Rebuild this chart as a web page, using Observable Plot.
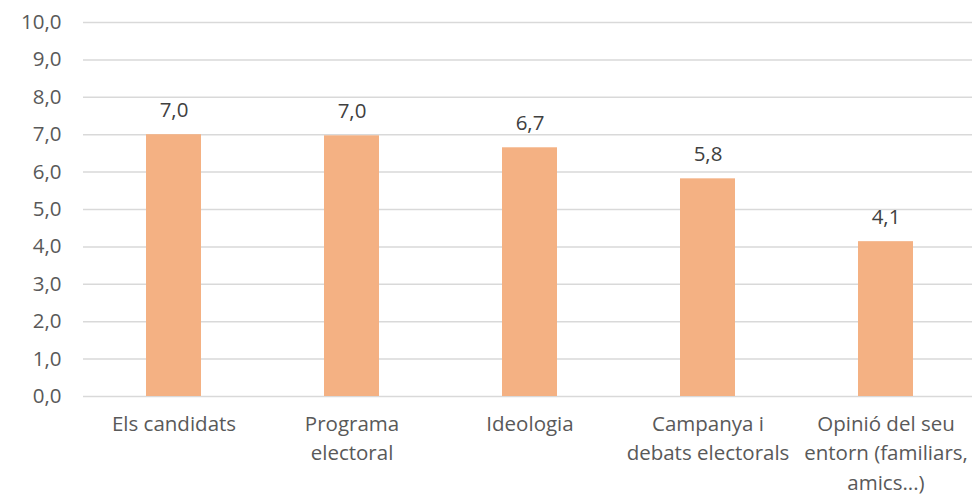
<!DOCTYPE html>
<html>
<head>
<meta charset="utf-8">
<script src="https://cdn.jsdelivr.net/npm/d3@7"></script>
<script src="https://cdn.jsdelivr.net/npm/@observablehq/plot@0.6"></script>
<style>
  html, body { margin: 0; padding: 0; background: #fff; }
</style>
</head>
<body>
<div id="chart"></div>
<script>
const categories = [
  "Els candidats",
  "Programa\nelectoral",
  "Ideologia",
  "Campanya i\ndebats electorals",
  "Opinió del seu\nentorn (familiars,\namics...)"
];
const values = [7.0, 6.97, 6.65, 5.82, 4.14];
const yTicks = [0, 1, 2, 3, 4, 5, 6, 7, 8, 9, 10];

const data = categories.map((c, i) => ({category: c, value: values[i]}));
const fmt = d => d.toFixed(1).replace(".", ",");
const FS = 20.5;

const chart = Plot.plot({
  width: 972,
  height: 495,
  marginLeft: 83,
  marginRight: 0,
  marginTop: 22,
  marginBottom: 99,
  style: {fontFamily: "'Open Sans', sans-serif", fontSize: FS + "px", color: "#595959", background: "#fff"},
  x: {domain: categories, range: [83, 975.5], paddingInner: 0.69, paddingOuter: 0.345, label: null},
  y: {domain: [0, 10], label: null},
  marks: [
    Plot.ruleY(yTicks, {stroke: "#d9d9d9", strokeWidth: 1.5}),
    Plot.barY(data, {x: "category", y: "value", fill: "#F4B183"}),
    Plot.text(data, {x: "category", y: "value", text: d => fmt(d.value), dy: -24, fill: "#404040", fontSize: FS}),
    Plot.axisY(yTicks, {tickFormat: fmt, tickSize: 0, tickPadding: 22, fontSize: FS, fill: "#595959", label: null}),
    Plot.axisX({tickSize: 0, tickPadding: 13, fontSize: FS, lineHeight: 1.45, fill: "#595959", label: null})
  ]
});
document.getElementById("chart").appendChild(chart);
</script>
</body>
</html>
